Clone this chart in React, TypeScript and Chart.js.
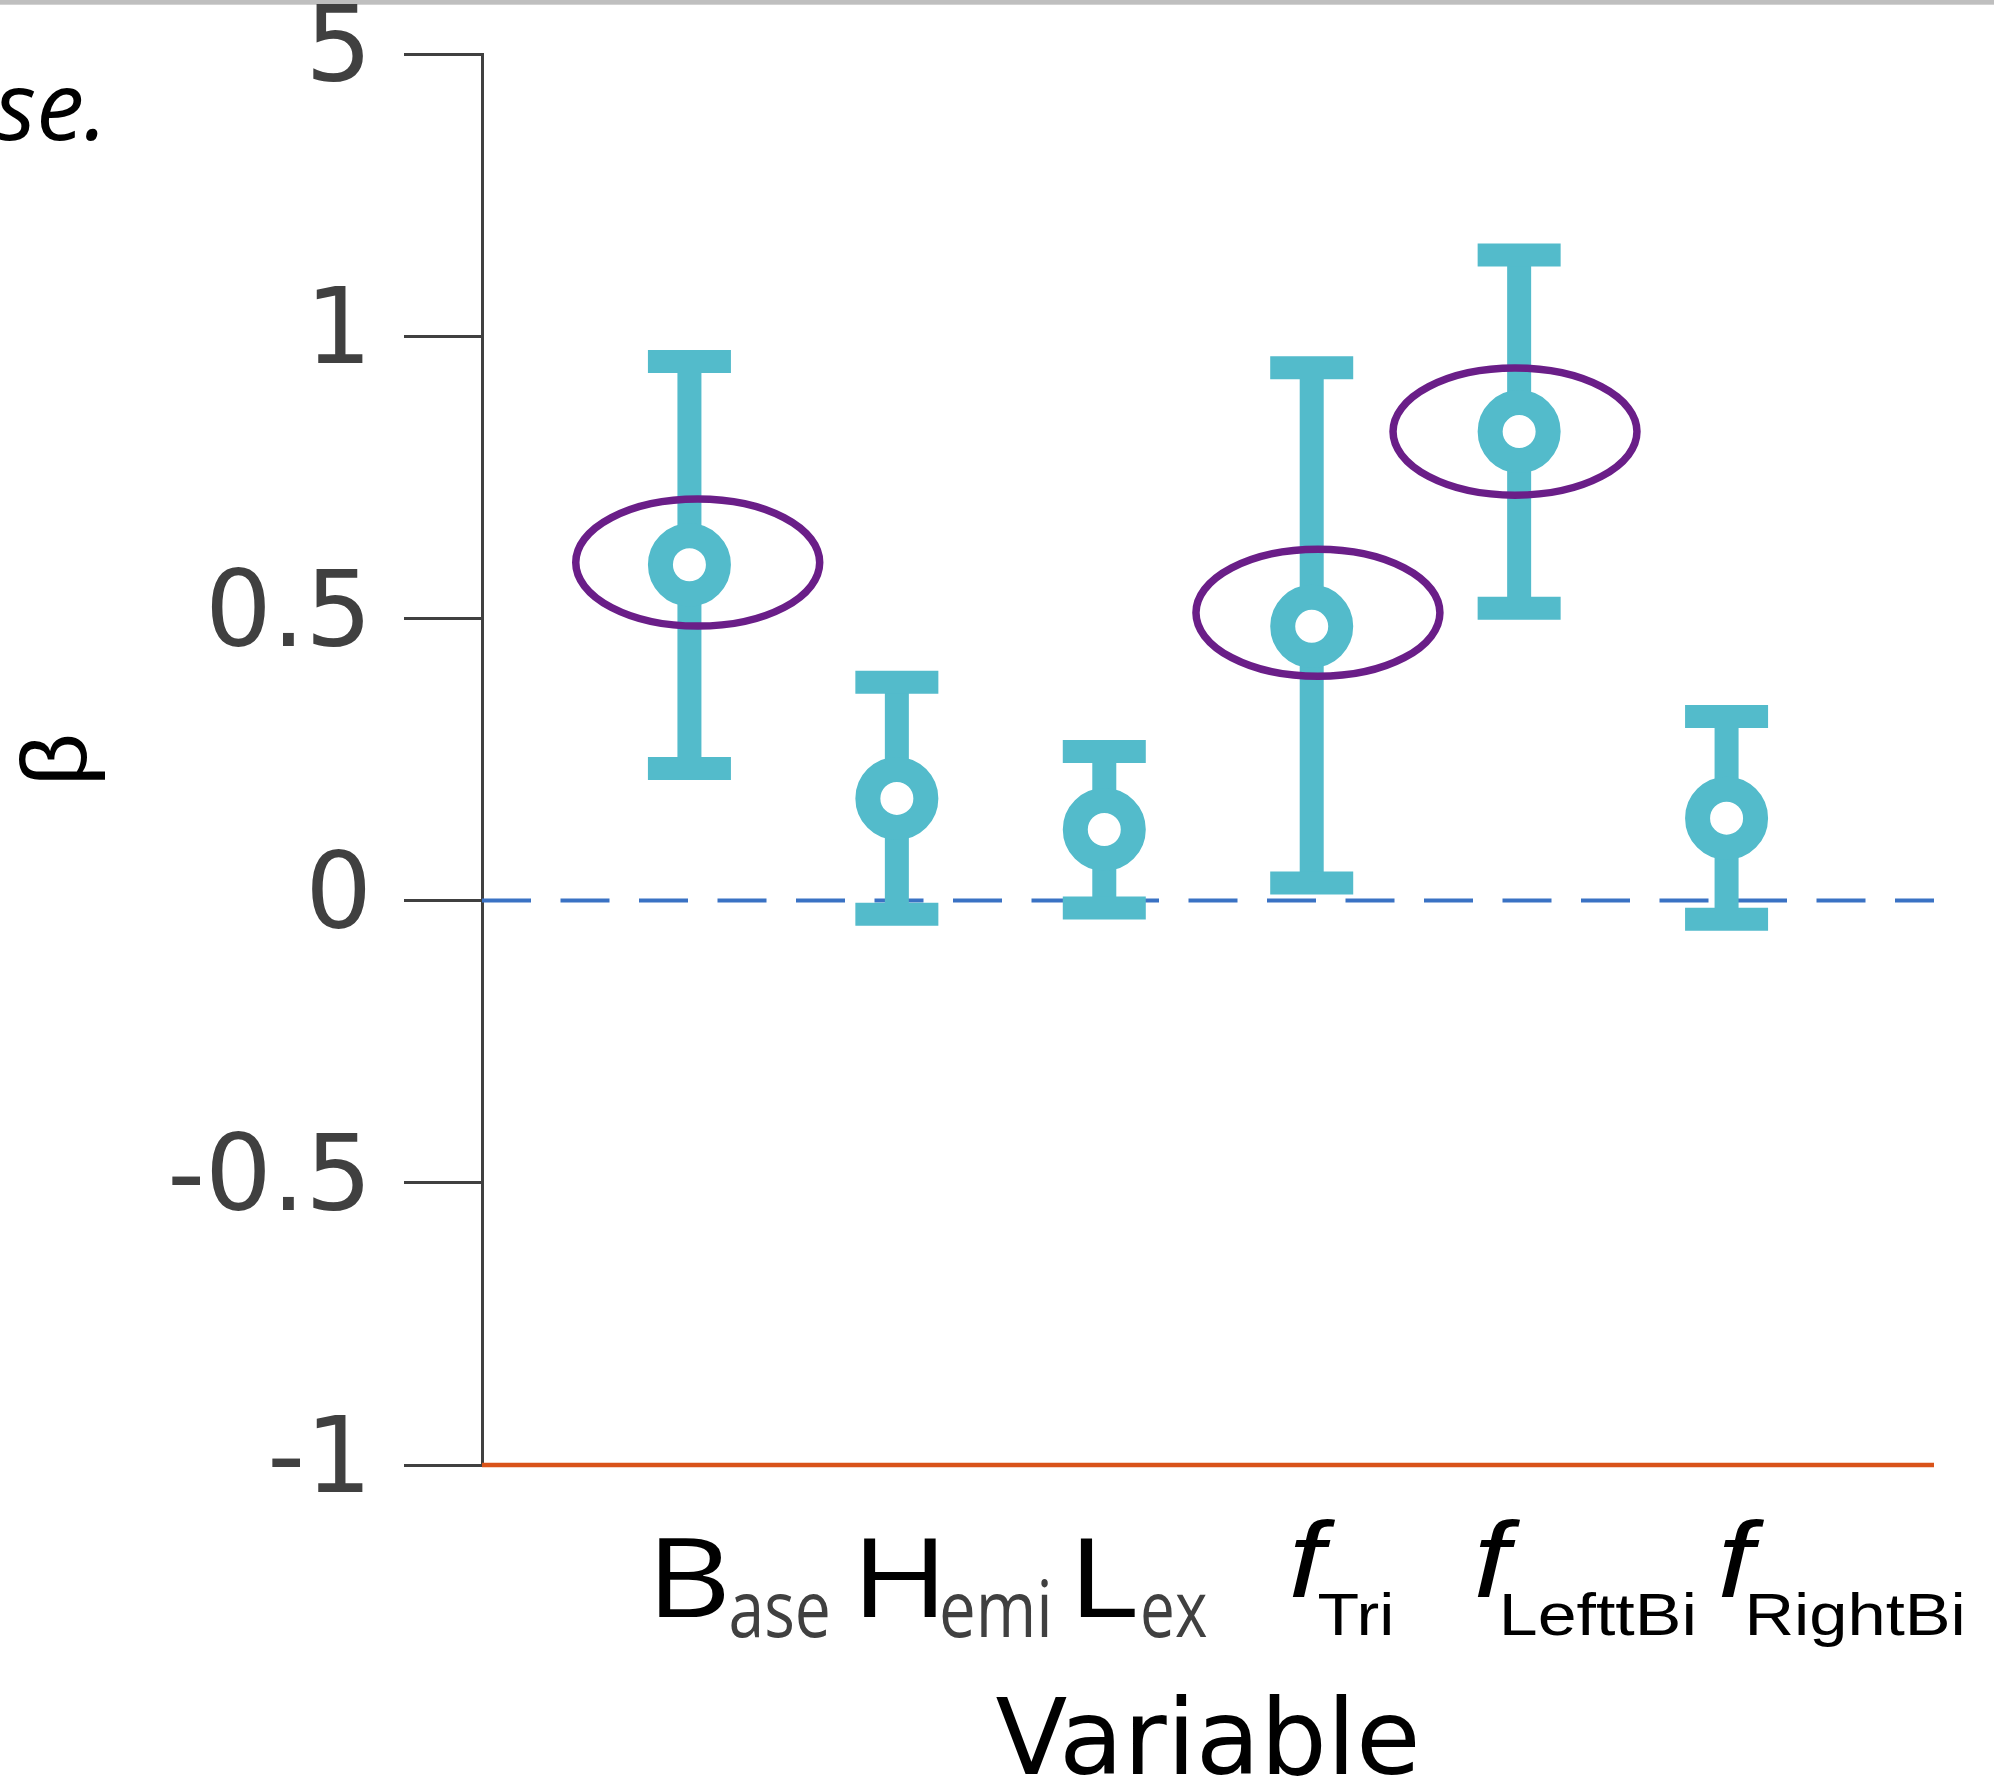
import React, { useEffect, useRef } from "react";
import { Chart, registerables } from "chart.js";

Chart.register(...registerables);

// ---------------- data ----------------
const categories = ["Base", "Hemi", "Lex", "fTri", "fLeftBi", "fRightBi"];
const categoryPositions = [1, 2, 3, 4, 5, 6];
const betaValues = [0.595, 0.181, 0.126, 0.486, 0.831, 0.146];
const upperBounds = [0.955, 0.387, 0.264, 0.944, 1.144, 0.326];
const lowerBounds = [0.234, -0.024, -0.013, 0.031, 0.518, -0.033];

const labelMain = ["B", "H", "L", "f", "f", "f"];
const labelSub = ["ase", "emi", "ex", "Tri", "LefttBi", "RightBi"];
const labelGroup = ["text", "text", "text", "math", "math", "math"];

const yTickValues = [-1, -0.5, 0, 0.5, 1, 1.5];
const yTickLabels = ["-1", "-0.5", "0", "0.5", "1", "5"];

const xRange = [0, 7];
const zeroLevel = 0;
const floorLevel = -1;

// highlighted estimates (ellipses), in data units
const highlightX = [1.04, 4.03, 4.98];
const highlightY = [0.599, 0.51, 0.831];
const highlightRX = [0.588, 0.588, 0.588];
const highlightRY = [0.1126, 0.1126, 0.1126];

// ---------------- styles ----------------
const TEAL = "#53bbcb";
const PURPLE = "#6a1e88";
const BLUE = "#3a72c4";
const RED = "#d95319";
const AXIS = "#404040";

const LABEL_STYLES: Record<string, any> = {
  text: {
    mainFont: '110px "Open Sans"',
    subFont: '78px "Open Sans"',
    mainColor: "#000000",
    subColor: "#404040",
    mainBase: 152,
    subBase: 172,
  },
  math: {
    mainFont: 'italic 107px "Liberation Sans"',
    subFont: '60px "Liberation Sans"',
    mainColor: "#000000",
    subColor: "#000000",
    mainBase: 132,
    subBase: 170,
  },
};
// ink box of each label piece, relative to its category pixel: [left offset, ink width]
const LABEL_MAIN_BOX = [
  [-31.1, 66.7],
  [-33.6, 73.3],
  [-24.3, 55],
  [-19.7, 43],
  [-42.1, 43],
  [-5.6, 43],
];
const LABEL_SUB_BOX = [
  [41.6, 96.7],
  [45.4, 105.7],
  [39, 63.4],
  [6.8, 72],
  [-15.7, 189.6],
  [22.4, 213],
];

function drawInkText(ctx: CanvasRenderingContext2D, text: string, left: number, width: number, baseline: number) {
  const m = ctx.measureText(text);
  const natural = m.actualBoundingBoxLeft + m.actualBoundingBoxRight;
  const sx = natural > 0 ? width / natural : 1;
  ctx.save();
  ctx.translate(left, baseline);
  ctx.scale(sx, 1);
  ctx.fillText(text, m.actualBoundingBoxLeft, 0);
  ctx.restore();
}

const backgroundPlugin = {
  id: "pageBackground",
  beforeDraw(chart: any) {
    const { ctx, width, height } = chart;
    ctx.save();
    ctx.fillStyle = "#ffffff";
    ctx.fillRect(0, 0, width, height);
    ctx.fillStyle = "#bfbfbf";
    ctx.fillRect(0, 0, width, 4.7);
    ctx.font = 'italic 96px "Open Sans"';
    ctx.fillStyle = "#000000";
    ctx.textBaseline = "alphabetic";
    ctx.textAlign = "left";
    const m = ctx.measureText("se.");
    ctx.fillText("se.", 98 - m.actualBoundingBoxRight, 140);
    ctx.restore();
  },
};

const errorBarPlugin = {
  id: "errorBars",
  beforeDatasetDraw(chart: any, args: any) {
    if (args.index !== 0) return;
    const { ctx, scales } = chart;
    const x = scales.x;
    const y = scales.y;
    ctx.save();
    ctx.strokeStyle = TEAL;
    ctx.lineCap = "butt";
    categoryPositions.forEach((c, i) => {
      const px = x.getPixelForValue(c);
      const yu = y.getPixelForValue(upperBounds[i]);
      const yl = y.getPixelForValue(lowerBounds[i]);
      ctx.lineWidth = 24;
      ctx.beginPath();
      ctx.moveTo(px, yu);
      ctx.lineTo(px, yl);
      ctx.stroke();
      ctx.lineWidth = 23;
      ctx.beginPath();
      ctx.moveTo(px - 41.5, yu);
      ctx.lineTo(px + 41.5, yu);
      ctx.moveTo(px - 41.5, yl);
      ctx.lineTo(px + 41.5, yl);
      ctx.stroke();
    });
    ctx.restore();
  },
};

const ellipsePlugin = {
  id: "highlightEllipses",
  afterDatasetsDraw(chart: any) {
    const { ctx, scales } = chart;
    const x = scales.x;
    const y = scales.y;
    ctx.save();
    ctx.strokeStyle = PURPLE;
    ctx.lineWidth = 7.5;
    highlightX.forEach((cx, i) => {
      const px = x.getPixelForValue(cx);
      const py = y.getPixelForValue(highlightY[i]);
      const rx = Math.abs(x.getPixelForValue(cx + highlightRX[i]) - px);
      const ry = Math.abs(y.getPixelForValue(highlightY[i] + highlightRY[i]) - py);
      ctx.beginPath();
      ctx.ellipse(px, py, rx, ry, 0, 0, Math.PI * 2);
      ctx.stroke();
    });
    ctx.restore();
  },
};

const xLabelPlugin = {
  id: "xLabels",
  afterDraw(chart: any) {
    const { ctx, chartArea, scales } = chart;
    const x = scales.x;
    ctx.save();
    ctx.textBaseline = "alphabetic";
    ctx.textAlign = "left";
    categoryPositions.forEach((c, i) => {
      const st = LABEL_STYLES[labelGroup[i]];
      const px = x.getPixelForValue(c);
      ctx.font = st.mainFont;
      ctx.fillStyle = st.mainColor;
      drawInkText(ctx, labelMain[i], px + LABEL_MAIN_BOX[i][0], LABEL_MAIN_BOX[i][1], chartArea.bottom + st.mainBase);
      ctx.font = st.subFont;
      ctx.fillStyle = st.subColor;
      drawInkText(ctx, labelSub[i], px + LABEL_SUB_BOX[i][0], LABEL_SUB_BOX[i][1], chartArea.bottom + st.subBase);
    });
    ctx.restore();
  },
};

export default function App() {
  const canvasRef = useRef<HTMLCanvasElement | null>(null);

  useEffect(() => {
    if (!canvasRef.current) return;
    const chart = new Chart(canvasRef.current, {
      type: "scatter",
      data: {
        datasets: [
          {
            label: "β",
            data: categoryPositions.map((c, i) => ({ x: c, y: betaValues[i] })),
            showLine: false,
            pointRadius: 29,
            pointHoverRadius: 29,
            pointBorderWidth: 25,
            pointBackgroundColor: "#ffffff",
            pointBorderColor: TEAL,
          },
          {
            type: "line",
            label: "zero",
            data: xRange.map((v) => ({ x: v, y: zeroLevel })),
            borderColor: BLUE,
            borderWidth: 4,
            borderDash: [49, 29.5],
            pointRadius: 0,
            fill: false,
            clip: false,
          } as any,
          {
            type: "line",
            label: "floor",
            data: xRange.map((v) => ({ x: v, y: floorLevel })),
            borderColor: RED,
            borderWidth: 4.5,
            pointRadius: 0,
            fill: false,
            clip: false,
          } as any,
        ],
      },
      options: {
        animation: false,
        responsive: false,
        devicePixelRatio: 1,
        events: [],
        layout: { padding: { left: 0, right: 60, top: 49.5, bottom: 0 } },
        plugins: {
          legend: { display: false },
          tooltip: { enabled: false },
        },
        scales: {
          x: {
            type: "linear",
            min: xRange[0],
            max: xRange[1],
            afterFit: (s: any) => {
              s.height = 326;
            },
            ticks: { display: false },
            grid: { display: false },
            border: { display: false },
            title: {
              display: true,
              text: "Variable",
              color: "#000000",
              font: { family: "DejaVu Sans", size: 105, lineHeight: "89px" },
              padding: 0,
            },
          },
          y: {
            type: "linear",
            min: yTickValues[0],
            max: yTickValues[yTickValues.length - 1],
            afterBuildTicks: (s: any) => {
              s.ticks = yTickValues.map((v) => ({ value: v }));
            },
            afterFit: (s: any) => {
              s.width = 482;
            },
            ticks: {
              callback: (v: any) => yTickLabels[yTickValues.indexOf(Number(v))],
              color: AXIS,
              font: { family: "DejaVu Sans", size: 105, lineHeight: 0.3 },
              padding: 32,
            },
            grid: {
              display: true,
              drawOnChartArea: false,
              drawTicks: true,
              tickLength: 78,
              tickWidth: 3,
              tickColor: AXIS,
              color: AXIS,
              lineWidth: 3,
            },
            border: { display: true, color: AXIS, width: 3 },
            title: {
              display: true,
              text: "β",
              color: "#000000",
              font: { family: "Liberation Sans", size: 92, lineHeight: 1 },
              padding: { top: 15, bottom: 0 },
            },
          },
        },
      },
      plugins: [backgroundPlugin, errorBarPlugin, ellipsePlugin, xLabelPlugin],
    });
    return () => chart.destroy();
  }, []);

  return (
    <div style={{ position: "absolute", left: 0, top: 0, width: 1994, height: 1791 }}>
      <canvas ref={canvasRef} width={1994} height={1791} style={{ display: "block" }} />
    </div>
  );
}
